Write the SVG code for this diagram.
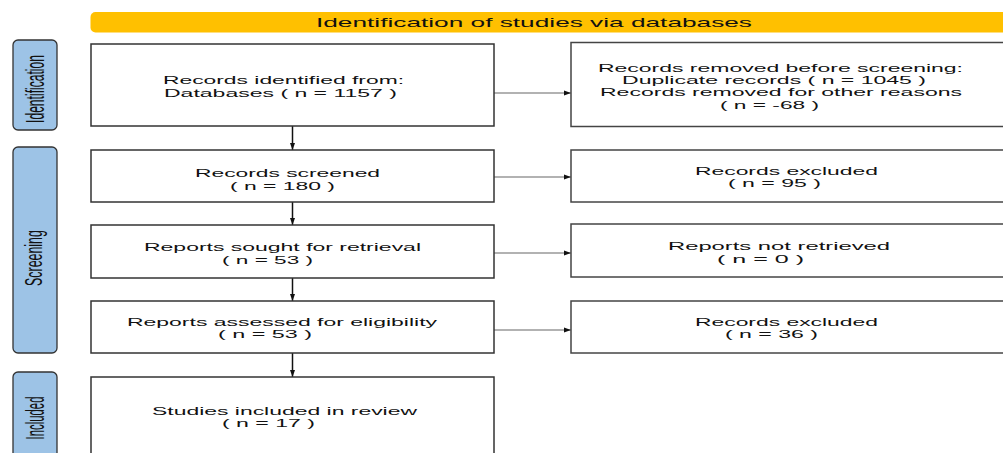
<svg xmlns="http://www.w3.org/2000/svg" width="1003" height="453" viewBox="0 0 1003 453">
<defs>
<style>
.box{fill:#fff;stroke:#333;stroke-width:1.5}
.rbox{fill:#fff;stroke:#444;stroke-width:1.5}
.phase{fill:#9DC3E6;stroke:#333;stroke-width:1.3}
.t{font-family:"Liberation Sans",Arial,sans-serif;font-size:11.5px;fill:#111}
.h{font-family:"Liberation Sans",Arial,sans-serif;font-size:13px;fill:#111}
.v{font-family:"Liberation Sans",Arial,sans-serif;fill:#111}
.hc{stroke:#666;stroke-width:1.2;fill:none}
.vc{stroke:#111;stroke-width:1.5;fill:none}
</style>
<marker id="ah" markerWidth="8" markerHeight="6" refX="7" refY="3" orient="auto" markerUnits="userSpaceOnUse">
<path d="M0,0.5 L7,3 L0,5.5 z" fill="#111"/>
</marker>
</defs>
<rect width="1003" height="453" fill="#fff"/>

<g id="header">
<rect x="90.5" y="12" width="930" height="20.5" rx="5" fill="#FFC000"/>
<text class="h" x="316" y="26.5" textLength="436" lengthAdjust="spacingAndGlyphs">Identification of studies via databases</text>
</g>

<g id="phase-identification">
<rect class="phase" x="13" y="40" width="44" height="90" rx="5"/>
<text class="v" font-size="12.1" transform="translate(44,89) rotate(-90) scale(1,2.07)" text-anchor="middle">Identification</text>
</g>
<g id="phase-screening">
<rect class="phase" x="13" y="147" width="44" height="206" rx="5"/>
<text class="v" font-size="12.4" transform="translate(42,258) rotate(-90) scale(1,2.0)" text-anchor="middle">Screening</text>
</g>
<g id="phase-included">
<rect class="phase" x="13" y="372" width="44" height="100" rx="5"/>
<text class="v" font-size="11.4" transform="translate(44,418) rotate(-90) scale(1,2.2)" text-anchor="middle">Included</text>
</g>

<g id="connectors">
<line class="vc" x1="292.5" y1="126" x2="292.5" y2="150" marker-end="url(#ah)"/>
<line class="vc" x1="292.5" y1="202" x2="292.5" y2="225" marker-end="url(#ah)"/>
<line class="vc" x1="292.5" y1="278" x2="292.5" y2="301" marker-end="url(#ah)"/>
<line class="vc" x1="292.5" y1="353" x2="292.5" y2="377" marker-end="url(#ah)"/>
<line class="hc" x1="494" y1="93" x2="571" y2="93" marker-end="url(#ah)"/>
<line class="hc" x1="494" y1="177" x2="571" y2="177" marker-end="url(#ah)"/>
<line class="hc" x1="494" y1="253" x2="571" y2="253" marker-end="url(#ah)"/>
<line class="hc" x1="494" y1="330" x2="571" y2="330" marker-end="url(#ah)"/>
</g>

<g id="records-identified">
<rect class="box" x="91" y="44" width="403" height="82"/>
<text class="t" x="163" y="84" textLength="241" lengthAdjust="spacingAndGlyphs">Records identified from:</text>
<text class="t" x="164" y="96.5" textLength="233" lengthAdjust="spacingAndGlyphs">Databases ( n = 1157 )</text>
</g>
<g id="records-removed">
<rect class="rbox" x="571" y="42.5" width="450" height="84"/>
<text class="t" x="598" y="71.5" textLength="365" lengthAdjust="spacingAndGlyphs">Records removed before screening:</text>
<text class="t" x="622" y="83.5" textLength="304" lengthAdjust="spacingAndGlyphs">Duplicate records ( n = 1045 )</text>
<text class="t" x="600" y="96" textLength="362" lengthAdjust="spacingAndGlyphs">Records removed for other reasons</text>
<text class="t" x="720" y="108.5" textLength="99" lengthAdjust="spacingAndGlyphs">( n = -68 )</text>
</g>

<g id="records-screened">
<rect class="box" x="91" y="150" width="403" height="52"/>
<text class="t" x="195" y="177" textLength="185" lengthAdjust="spacingAndGlyphs">Records screened</text>
<text class="t" x="230" y="189.5" textLength="105" lengthAdjust="spacingAndGlyphs">( n = 180 )</text>
</g>
<g id="records-excluded-1">
<rect class="rbox" x="571" y="150" width="450" height="52"/>
<text class="t" x="695" y="174.5" textLength="183" lengthAdjust="spacingAndGlyphs">Records excluded</text>
<text class="t" x="728" y="187" textLength="93" lengthAdjust="spacingAndGlyphs">( n = 95 )</text>
</g>

<g id="reports-sought">
<rect class="box" x="91" y="225" width="403" height="53"/>
<text class="t" x="144" y="251" textLength="277" lengthAdjust="spacingAndGlyphs">Reports sought for retrieval</text>
<text class="t" x="222" y="263.5" textLength="91" lengthAdjust="spacingAndGlyphs">( n = 53 )</text>
</g>
<g id="reports-not-retrieved">
<rect class="rbox" x="571" y="224" width="450" height="53"/>
<text class="t" x="668" y="250" textLength="222" lengthAdjust="spacingAndGlyphs">Reports not retrieved</text>
<text class="t" x="717" y="262.5" textLength="87" lengthAdjust="spacingAndGlyphs">( n = 0 )</text>
</g>

<g id="reports-assessed">
<rect class="box" x="91" y="301" width="403" height="52"/>
<text class="t" x="127" y="325.5" textLength="310" lengthAdjust="spacingAndGlyphs">Reports assessed for eligibility</text>
<text class="t" x="218" y="338" textLength="94" lengthAdjust="spacingAndGlyphs">( n = 53 )</text>
</g>
<g id="records-excluded-2">
<rect class="rbox" x="571" y="301" width="450" height="52"/>
<text class="t" x="695" y="325.5" textLength="183" lengthAdjust="spacingAndGlyphs">Records excluded</text>
<text class="t" x="725" y="338" textLength="93" lengthAdjust="spacingAndGlyphs">( n = 36 )</text>
</g>

<g id="studies-included">
<rect class="box" x="91" y="377" width="403" height="90"/>
<text class="t" x="152" y="414.5" textLength="265" lengthAdjust="spacingAndGlyphs">Studies included in review</text>
<text class="t" x="222" y="427" textLength="93" lengthAdjust="spacingAndGlyphs">( n = 17 )</text>
</g>
</svg>
